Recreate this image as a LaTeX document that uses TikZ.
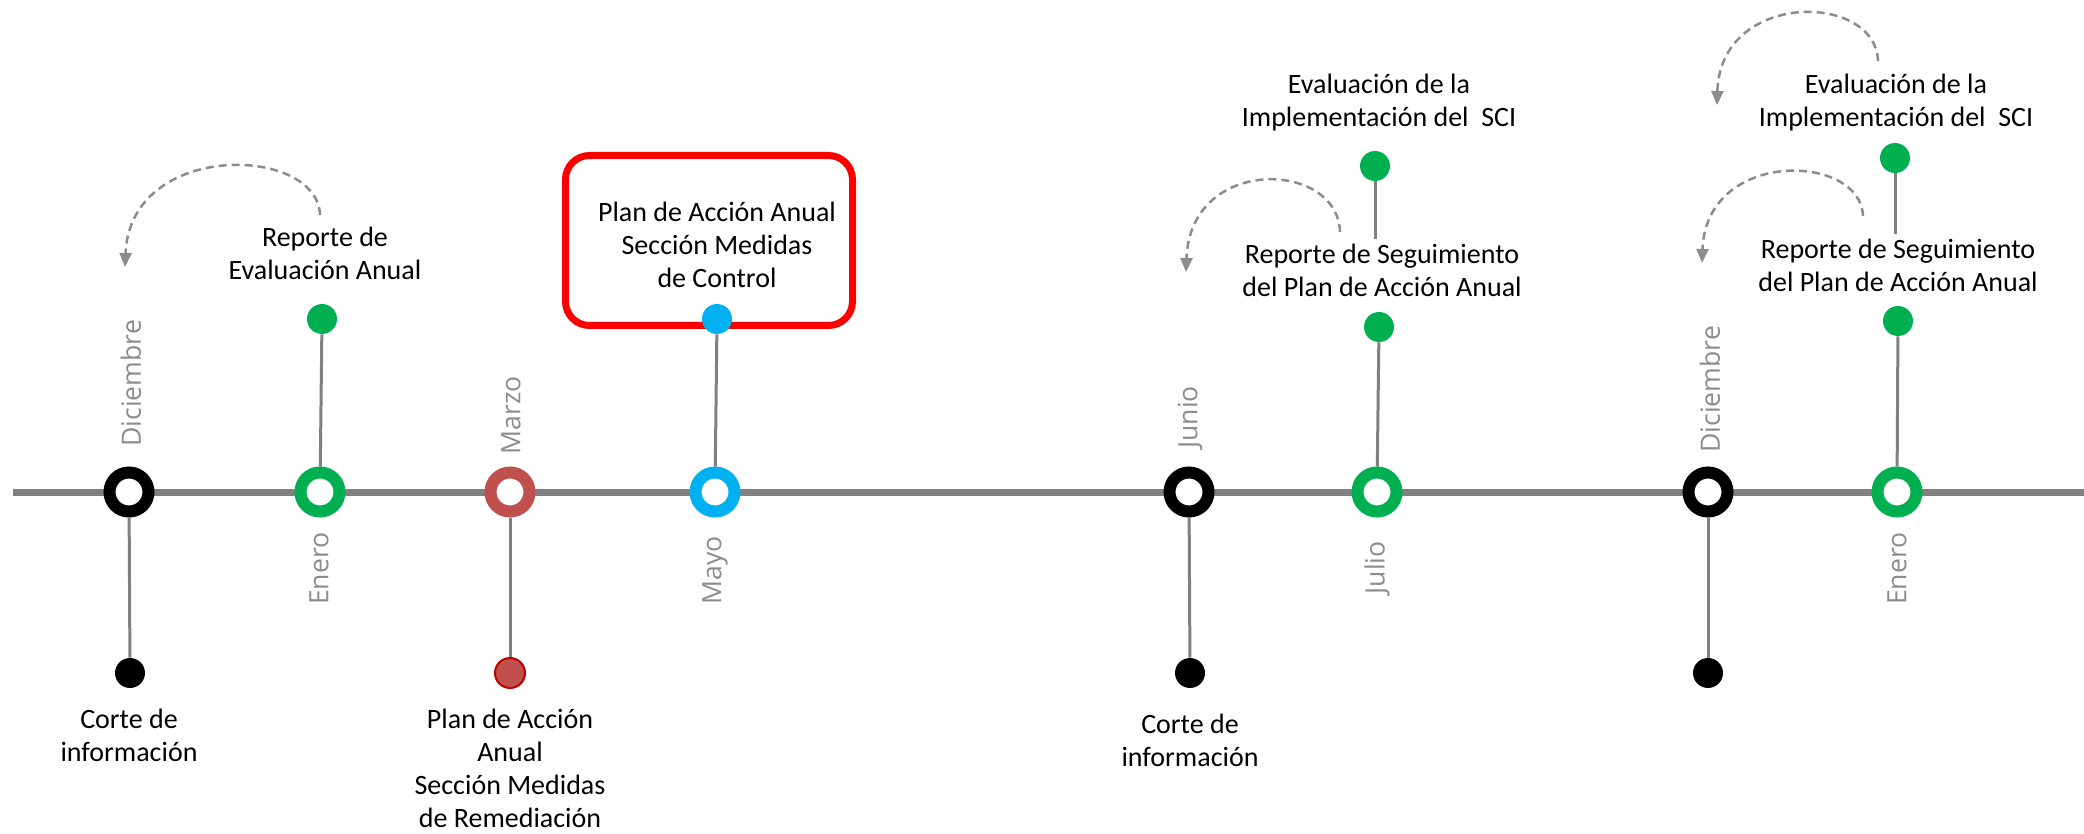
\documentclass[tikz,border=0pt]{standalone}
\usepackage{fontspec}
\setmainfont{Carlito}
\newfontfamily\monthfont{Open Sans}
\usetikzlibrary{arrows.meta, positioning}

\definecolor{linegray}{RGB}{128,128,128}
\definecolor{dashgray}{RGB}{140,140,140}
\definecolor{monthgray}{RGB}{140,140,140}
\definecolor{ringred}{RGB}{192,80,77}
\definecolor{dotred}{RGB}{192,0,0}
\definecolor{mkgreen}{RGB}{0,176,80}
\definecolor{mkblue}{RGB}{0,176,240}
\definecolor{boxred}{RGB}{255,0,0}

\begin{document}
\begin{tikzpicture}[
        x=0.5pt, y=-0.5pt,
        ring/.style={circle, draw=#1, line width=6pt, fill=white,
                     inner sep=0pt, minimum size=19.5pt},
        dot/.style={circle, fill=#1, inner sep=0pt, minimum size=15pt},
        stem/.style={draw=linegray, line width=1.5pt},
        month/.style={font=\monthfont\fontsize{13.3}{16}\selectfont,
                      text=monthgray, rotate=90, inner sep=0pt},
        lbl/.style={align=center, font=\fontsize{14}{16.5}\selectfont,
                    inner sep=2pt},
        back/.style={dash pattern=on 4pt off 2.5pt, draw=dashgray,
                     line width=1.25pt, -{Triangle[length=7pt, width=6pt]}}
    ]
        \useasboundingbox (0,0) rectangle (2084,834);

        % timeline
        \coordinate (tlstart) at (13,492);
        \coordinate (tlend) at (2084,492);
        \draw[draw=linegray, line width=3.5pt] (tlstart) -- (tlend);

        % months
        \node[ring=black] (dic1) at (129,492) {};
        \node[ring=mkgreen] (ene1) at (320,492) {};
        \node[ring=ringred] (mar) at (510,492) {};
        \node[ring=mkblue] (may) at (715,492) {};
        \node[ring=black] (jun) at (1189,492) {};
        \node[ring=mkgreen] (jul) at (1377,492) {};
        \node[ring=black] (dic2) at (1708,492) {};
        \node[ring=mkgreen] (ene2) at (1897,492) {};

        \node[month, anchor=west] (dic1m) at (131,447) {Diciembre};
        \node[month, anchor=west] (marm) at (511,455) {Marzo};
        \node[month, anchor=west] (junm) at (1190,449) {Junio};
        \node[month, anchor=west] (dic2m) at (1710,453) {Diciembre};
        \node[month, anchor=east] (ene1m) at (319,532) {Enero};
        \node[month, anchor=east] (maym) at (715,536) {Mayo};
        \node[month, anchor=east] (julm) at (1377,541) {Julio};
        \node[month, anchor=east] (ene2m) at (1897,532) {Enero};

        % control box
        \node[draw=boxred, line width=3.5pt, rounded corners=12pt,
              minimum width=143.5pt, minimum height=85pt, inner sep=0pt]
              (ctrlbox) at (709,240.5) {};
        \node[lbl] (ctrltxt) at (717,245) {Plan de Acción Anual\\Sección Medidas\\de Control};

        % events
        \node[dot=black] (dic1cut) at (130,673) {};
        \node[dot=ringred, draw=dotred, line width=1pt] (marrem) at (510,673) {};
        \node[dot=black] (juncut) at (1190,673) {};
        \node[dot=black] (dic2cut) at (1708,673) {};
        \node[dot=mkgreen] (ene1rep) at (322,319) {};
        \node[dot=mkblue] (maydot) at (717,319) {};
        \node[dot=mkgreen] (juleval) at (1375,166) {};
        \node[dot=mkgreen] (julrep) at (1379,327) {};
        \node[dot=mkgreen] (ene2eval) at (1895,158) {};
        \node[dot=mkgreen] (ene2rep) at (1898,321) {};

        \node[lbl] (ene1txt) at (325,253) {Reporte de\\Evaluación Anual};
        \node[lbl] (dic1txt) at (129,735) {Corte de\\información};
        \node[lbl] (martxt) at (510,768) {Plan de Acción\\Anual\\Sección Medidas\\de Remediación};
        \node[lbl] (juntxt) at (1190,740) {Corte de\\información};
        \node[lbl] (julevaltxt) at (1379,103) {Evaluación de la\\Implementación del~ SCI};
        \node[lbl] (julreptxt) at (1382,270) {Reporte de Seguimiento\\del Plan de Acción Anual};
        \node[lbl] (ene2evaltxt) at (1896,103) {Evaluación de la\\Implementación del~ SCI};
        \node[lbl] (ene2reptxt) at (1898,265) {Reporte de Seguimiento\\del Plan de Acción Anual};

        \draw[stem] (dic1) -- (dic1cut);
        \draw[stem] (mar) -- (marrem);
        \draw[stem] (jun) -- (juncut);
        \draw[stem] (dic2) -- (dic2cut);
        \draw[stem] (ene1rep) -- (ene1);
        \draw[stem] (maydot) -- (may);
        \draw[stem] (julrep) -- (jul);
        \draw[stem] (ene2rep) -- (ene2);
        \draw[stem] (juleval) -- (juleval |- julreptxt.north);
        \draw[stem] (ene2eval) -- (ene2eval |- ene2reptxt.north);

        % dashed return arrows
        \coordinate (ene1bs) at (320,215);
        \coordinate (ene1be) at (125,267);
        \coordinate (julbs) at (1340,232);
        \coordinate (julbe) at (1186,272);
        \coordinate (ene2bs) at (1878,61);
        \coordinate (ene2be) at (1717,105);
        \coordinate (ene2rbs) at (1863,216);
        \coordinate (ene2rbe) at (1702,263);
        \draw[back] (ene1bs) .. controls (318,145) and (130,140) .. (ene1be);
        \draw[back] (julbs) .. controls (1338,160) and (1190,155) .. (julbe);
        \draw[back] (ene2bs) .. controls (1876,-8) and (1720,-10) .. (ene2be);
        \draw[back] (ene2rbs) .. controls (1861,153) and (1706,148) .. (ene2rbe);
    \end{tikzpicture}
\end{document}
